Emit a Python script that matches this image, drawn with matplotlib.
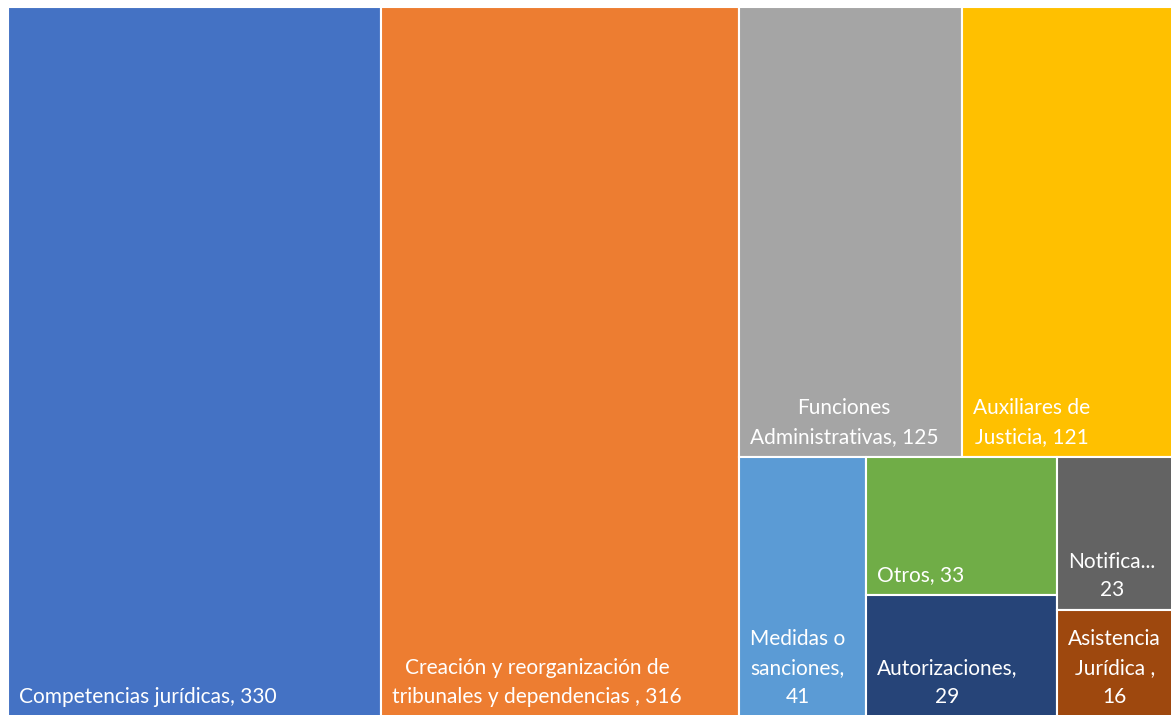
import matplotlib
matplotlib.use("Agg")
import matplotlib.pyplot as plt
from matplotlib.patches import Rectangle

plt.rcParams['font.family'] = ['Lato', 'DejaVu Sans']

# treemap data (Excel style)
labels = ["Competencias jurídicas, 330",
          "Creación y reorganización de\ntribunales y dependencias , 316",
          "Funciones\nAdministrativas, 125",
          "Auxiliares de\nJusticia, 121",
          "Medidas o\nsanciones,\n41",
          "Otros, 33",
          "Autorizaciones,\n29",
          "Notifica...\n23",
          "Asistencia\nJurídica ,\n16"]
values = [330, 316, 125, 121, 41, 33, 29, 23, 16]
colors = ["#4472C4", "#ED7D31", "#A5A5A5", "#FFC000", "#5B9BD5",
          "#70AD47", "#264478", "#636363", "#9E480E"]

# grouping of the tiles, as Excel arranged them (alternating horizontal / vertical splits)
tree = [0, 1, [[2, 3], [4, [5, 6], [7, 8]]]]


def total(node):
    if isinstance(node, int):
        return values[node]
    return sum(total(c) for c in node)


def layout(node, x, y, w, h, horizontal, out):
    if isinstance(node, int):
        out[node] = (x, y, w, h)
        return
    s = total(node)
    pos = 0.0
    for c in node:
        f = total(c) / s
        if horizontal:
            layout(c, x + pos * w, y, w * f, h, not horizontal, out)
        else:
            layout(c, x, y + pos * h, w, h * f, not horizontal, out)
        pos += f


# the chart runs a little past the right and bottom edges of the picture
W, H = 1170, 710
rects = {}
layout(tree, 0, 0, W, H, True, rects)

fig = plt.figure(figsize=(11.71, 7.15), dpi=100)
ax = fig.add_axes([8 / 1171, (715 - 7 - H) / 715, W / 1171, H / 715])
ax.set_xlim(0, W)
ax.set_ylim(H, 0)
ax.axis('off')

for i in range(len(values)):
    x, y, w, h = rects[i]
    ax.add_patch(Rectangle((x, y), w, h, facecolor=colors[i], edgecolor='white',
                           linewidth=1.5, clip_on=False))
    ax.text(x + 11, y + h - 10, labels[i], color='white', fontsize=15,
            ha='left', va='bottom', multialignment='center', linespacing=1.55)

fig.savefig("out.png", dpi=100)
